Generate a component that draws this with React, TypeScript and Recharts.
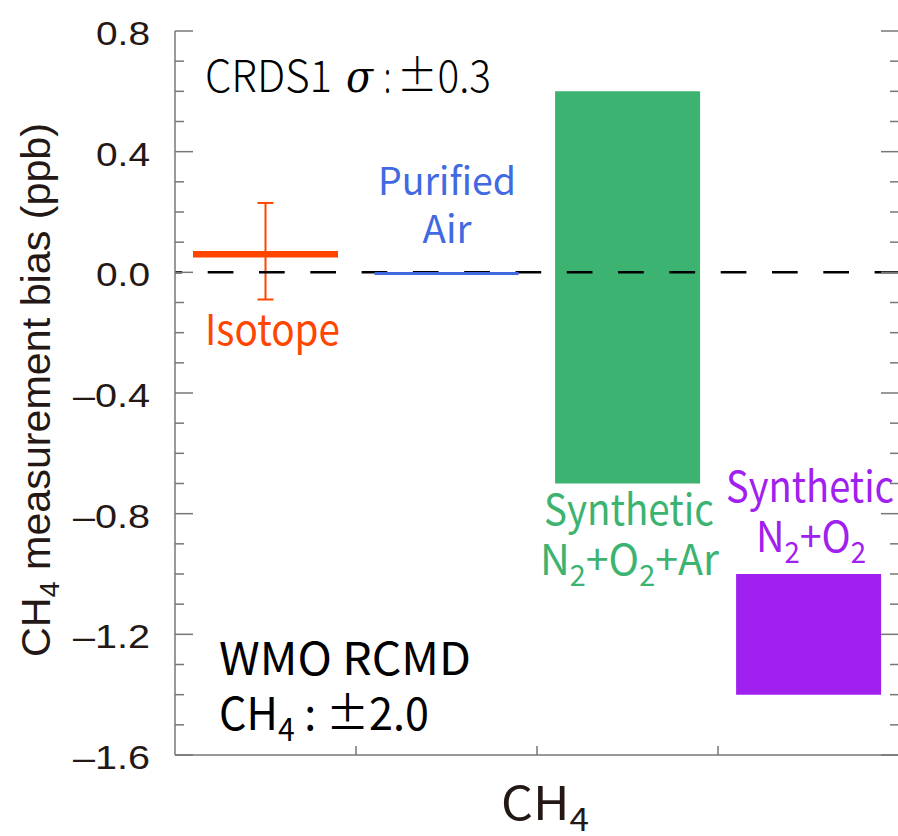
import React from "react";
import {
  ComposedChart,
  Bar,
  Cell,
  Scatter,
  ErrorBar,
  XAxis,
  YAxis,
  ReferenceLine,
} from "recharts";

const categories = ["Isotope", "Purified Air", "Synthetic N2+O2+Ar", "Synthetic N2+O2"];
const barLow = [null, null, -0.7, -1.4];
const barHigh = [null, null, 0.6, -1.0];
const colors = ["#FF4500", "#4169E1", "#3CB371", "#A020F0"];

const isotopeBias = 0.06;
const isotopeErr = [0.15, 0.17]; // lower, upper
const purifiedBias = -0.004;

const yTicks = [
  -1.6, -1.5, -1.4, -1.3, -1.2, -1.1, -1.0, -0.9, -0.8, -0.7, -0.6, -0.5, -0.4,
  -0.3, -0.2, -0.1, 0.0, 0.1, 0.2, 0.3, 0.4, 0.5, 0.6, 0.7, 0.8,
];

const data = categories.map((cat, i) => ({
  cat,
  range: barLow[i] == null ? null : [barLow[i], barHigh[i]],
}));
const isoData = [{ cat: categories[0], bias: isotopeBias, err: isotopeErr }];
const purData = [{ cat: categories[1], bias: purifiedBias }];

const W = 900;
const H = 836;
const PLOT_LEFT = 175;
const PLOT_RIGHT = 899;
const PLOT_TOP = 31;
const PLOT_BOTTOM = 755;
const HALF_BAND = (PLOT_RIGHT - PLOT_LEFT) / categories.length / 2;
const INK = "#231815";
const AXIS = "#777";

const isMajor = (v: number) => Math.abs(Math.round(v * 10)) % 4 === 0;
const fmt = (v: number) => (v < -0.001 ? "\u2013" + Math.abs(v).toFixed(1) : Math.abs(v).toFixed(1));

const LeftTick = (props: any) => {
  const { y, payload } = props;
  const major = isMajor(payload.value);
  return (
    <g>
      <line x1={PLOT_LEFT} x2={PLOT_LEFT + (major ? 18 : 9)} y1={y} y2={y} stroke={AXIS} strokeWidth={1.5} />
      {major && (
        <text
          x={150}
          y={y + 14}
          textAnchor="end"
          fontFamily="'Liberation Sans', Arial, sans-serif"
          fontSize={33}
          fill={INK}
          textLength={payload.value < -0.001 ? 77 : 54}
          lengthAdjust="spacingAndGlyphs"
        >
          {fmt(payload.value)}
        </text>
      )}
    </g>
  );
};

const RightTick = (props: any) => {
  const { y, payload } = props;
  const major = isMajor(payload.value);
  return <line x1={PLOT_RIGHT} x2={PLOT_RIGHT - (major ? 18 : 9)} y1={y} y2={y} stroke={AXIS} strokeWidth={1.5} />;
};

const BoundaryTick = (edgeY: number, dir: number) => (props: any) => {
  const { x, payload } = props;
  const idx = categories.indexOf(payload.value);
  if (idx < 0 || idx >= categories.length - 1) return <g />;
  const bx = x + HALF_BAND;
  return <line x1={bx} x2={bx} y1={edgeY} y2={edgeY + dir * 9} stroke={AXIS} strokeWidth={1.5} />;
};

const lineMark = (color: string, width: number, half: number) => (props: any) => {
  const { cx, cy } = props;
  if (cx == null || cy == null || isNaN(cy)) return <g />;
  return <line x1={cx - half} x2={cx + half} y1={cy} y2={cy} stroke={color} strokeWidth={width} />;
};

const Sub = ({ children }: { children: string }) => (
  <tspan fontSize="0.7em" dy={11}>
    {children}
  </tspan>
);
const Up = ({ children }: { children: string }) => <tspan dy={-11}>{children}</tspan>;

const narrow = "'Liberation Sans Narrow', 'Noto Sans CJK JP', 'Noto Sans', sans-serif";
const jp = "'Noto Sans CJK JP', 'Noto Sans', sans-serif";

const Annotations = () => (
  <svg width={W} height={H} style={{ position: "absolute", left: 0, top: 0, pointerEvents: "none" }}>
    {/* y axis title */}
    <text
      transform="translate(50 390) rotate(-90)"
      textAnchor="middle"
      fontFamily="'Liberation Sans', Arial, sans-serif"
      fontSize={40}
      fill={INK}
      textLength={534}
      lengthAdjust="spacingAndGlyphs"
    >
      CH<tspan fontSize={28} dy={9}>4</tspan>
      <tspan dy={-9}> measurement bias (ppb)</tspan>
    </text>

    <g fontFamily={jp} fontWeight={300} fontSize={44} fill="#000">
      <text x={205} y={92} textLength={127} lengthAdjust="spacingAndGlyphs">CRDS1</text>
      <text x={346} y={92} fontFamily="'DejaVu Serif', 'Liberation Serif', serif" fontStyle="italic" fontWeight={400} textLength={27} lengthAdjust="spacingAndGlyphs">σ</text>
      <text x={384} y={92} textLength={7} lengthAdjust="spacingAndGlyphs">:</text>
      <text x={397} y={92} textLength={94} lengthAdjust="spacingAndGlyphs">±0.3</text>
    </g>

    <text x={447} y={195} textAnchor="middle" fontFamily={jp} fontSize={38} fill={colors[1]} textLength={138} lengthAdjust="spacingAndGlyphs">
      Purified
    </text>
    <text x={447} y={243} textAnchor="middle" fontFamily={jp} fontSize={38} fill={colors[1]} textLength={49} lengthAdjust="spacingAndGlyphs">
      Air
    </text>

    <text x={205} y={345} fontFamily={narrow} fontSize={42} fill={colors[0]} textLength={135} lengthAdjust="spacingAndGlyphs">
      Isotope
    </text>

    <text x={544} y={525} fontFamily={narrow} fontSize={42} fill={colors[2]} textLength={170} lengthAdjust="spacingAndGlyphs">
      Synthetic
    </text>
    <text x={540} y={575} fontFamily={narrow} fontSize={42} fill={colors[2]} textLength={179} lengthAdjust="spacingAndGlyphs">
      N<Sub>2</Sub>
      <Up>+O</Up>
      <Sub>2</Sub>
      <Up>+Ar</Up>
    </text>

    <text x={726} y={502} fontFamily={narrow} fontSize={42} fill={colors[3]} textLength={168} lengthAdjust="spacingAndGlyphs">
      Synthetic
    </text>
    <text x={756} y={552} fontFamily={narrow} fontSize={42} fill={colors[3]} textLength={110} lengthAdjust="spacingAndGlyphs">
      N<Sub>2</Sub>
      <Up>+O</Up>
      <Sub>2</Sub>
    </text>

    <text x={219} y={675} fontFamily={narrow} fontSize={45} fill="#000" textLength={252} lengthAdjust="spacingAndGlyphs">
      WMO RCMD
    </text>
    <text x={219} y={730} fontFamily={narrow} fontSize={45} fill="#000" textLength={210} lengthAdjust="spacingAndGlyphs">
      CH<Sub>4</Sub>
      <Up> : ±2.0</Up>
    </text>

    <text x={501} y={820} fontFamily={narrow} fontSize={46} fill={INK} textLength={88} lengthAdjust="spacingAndGlyphs">
      CH<Sub>4</Sub>
    </text>
  </svg>
);

export default function App() {
  return (
    <div style={{ position: "absolute", left: 0, top: 0, width: W, height: H, background: "#fff" }}>
      <ComposedChart
        width={W}
        height={H}
        data={data}
        margin={{ top: PLOT_TOP, right: 0, bottom: 0, left: 0 }}
        barCategoryGap="10%"
      >
        <XAxis
          dataKey="cat"
          allowDuplicatedCategory={false}
          height={H - PLOT_BOTTOM}
          axisLine={{ stroke: AXIS, strokeWidth: 1.5 }}
          tickLine={false}
          tick={BoundaryTick(PLOT_BOTTOM, -1)}
          interval={0}
        />
        <XAxis
          xAxisId="top"
          dataKey="cat"
          orientation="top"
          allowDuplicatedCategory={false}
          height={0}
          axisLine={{ stroke: AXIS, strokeWidth: 1.5 }}
          tickLine={false}
          tick={BoundaryTick(PLOT_TOP, 1)}
          interval={0}
        />
        <YAxis
          type="number"
          domain={[-1.6, 0.8]}
          ticks={yTicks}
          interval={0}
          width={PLOT_LEFT}
          allowDataOverflow
          axisLine={{ stroke: AXIS, strokeWidth: 1.5 }}
          tickLine={false}
          tick={LeftTick}
        />
        <YAxis
          yAxisId="r"
          orientation="right"
          type="number"
          domain={[-1.6, 0.8]}
          ticks={yTicks}
          interval={0}
          width={W - PLOT_RIGHT}
          allowDataOverflow
          axisLine={{ stroke: AXIS, strokeWidth: 1.5 }}
          tickLine={false}
          tick={RightTick}
        />
        <Bar dataKey="range" isAnimationActive={false}>
          {data.map((d, i) => (
            <Cell key={d.cat} fill={colors[i]} />
          ))}
        </Bar>
        <Scatter data={purData} dataKey="bias" isAnimationActive={false} shape={lineMark(colors[1], 3, 72)} />
        <Scatter data={isoData} dataKey="bias" isAnimationActive={false} shape={lineMark(colors[0], 6.5, 72.5)}>
          <ErrorBar dataKey="err" direction="y" width={8} stroke={colors[0]} strokeWidth={2} />
        </Scatter>
        <ReferenceLine
          y={0}
          stroke="#000"
          strokeWidth={2.5}
          strokeDasharray="25.7 25.6"
          strokeDashoffset={18.6}
        />
      </ComposedChart>
      <Annotations />
    </div>
  );
}
